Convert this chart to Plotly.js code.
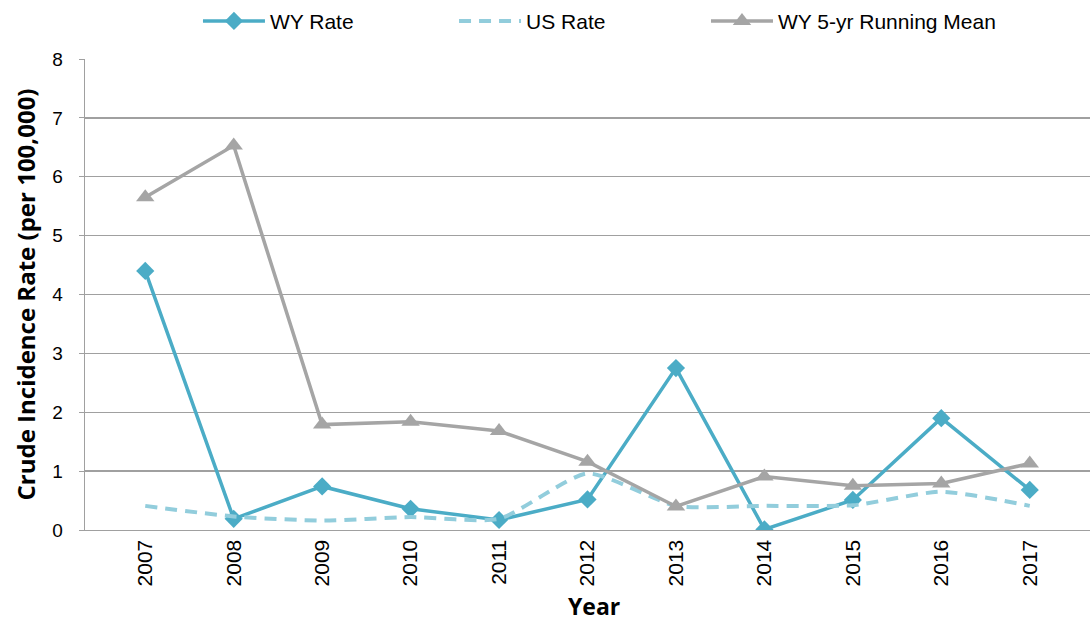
<!DOCTYPE html>
<html>
<head>
<meta charset="utf-8">
<script src="https://cdn.plot.ly/plotly-3.0.1.min.js"></script>
<style>html,body{margin:0;padding:0;background:#fff;}#chart{width:1092px;height:628px;}</style>
</head>
<body>
<div id="chart"></div>
<script>
const years = ['2007','2008','2009','2010','2011','2012','2013','2014','2015','2016','2017'];
const wyRate = [4.40, 0.19, 0.74, 0.36, 0.17, 0.52, 2.75, 0.01, 0.51, 1.90, 0.68];
const usRate = [0.41, 0.23, 0.16, 0.22, 0.19, 0.96, 0.41, 0.41, 0.42, 0.65, 0.41];
const wyMean = [5.65, 6.53, 1.79, 1.84, 1.68, 1.16, 0.40, 0.91, 0.75, 0.79, 1.13];
const yTicks = [0,1,2,3,4,5,6,7,8];

const traces = [
  {x: years, y: wyRate, name: 'WY Rate', type: 'scatter', mode: 'lines+markers', legend: 'legend',
   line: {color: '#4bacc6', width: 3.5},
   marker: {symbol: 'diamond', size: 14, color: '#4bacc6'}},
  {x: years, y: usRate, name: 'US Rate', type: 'scatter', mode: 'lines', legend: 'legend2',
   line: {color: '#92cddc', width: 4, dash: '12px,8px', shape: 'spline', smoothing: 0.6}},
  {x: years, y: wyMean, name: 'WY 5-yr Running Mean', type: 'scatter', mode: 'lines+markers', legend: 'legend3',
   line: {color: '#a5a5a5', width: 3.5},
   marker: {symbol: 'triangle-up', size: 16, color: '#a5a5a5'}}
];

const legFont = {family: 'Liberation Sans, Arial, sans-serif', size: 21, color: '#000'};
function leg(x) {
  return {orientation: 'h', x: x, xanchor: 'left', y: 1.08, yanchor: 'middle',
    itemwidth: 62, font: legFont, bgcolor: 'rgba(0,0,0,0)'};
}

const layout = {
  width: 1092, height: 628,
  margin: {l: 85, r: 2, t: 59, b: 98, autoexpand: false},
  paper_bgcolor: '#ffffff', plot_bgcolor: '#ffffff',
  font: {family: 'Liberation Sans, Arial, sans-serif', color: '#000'},
  showlegend: true,
  legend: leg(0.1124),
  legend2: leg(0.3672),
  legend3: leg(0.6179),
  xaxis: {type: 'category', categoryarray: years, tickangle: -90,
    showgrid: false, showline: true, linecolor: '#a0a0a0', linewidth: 1.3,
    ticks: '', tickfont: {size: 21, family: 'Liberation Sans, Arial, sans-serif'},
    zeroline: false, fixedrange: true, automargin: false},
  yaxis: {range: [0, 8], tickvals: yTicks, ticktext: yTicks.map(String),
    showgrid: true, gridcolor: '#a0a0a0', gridwidth: 1.3,
    showline: true, linecolor: '#a0a0a0', linewidth: 1.3,
    ticks: 'outside', ticklen: 5, tickcolor: '#a0a0a0', ticklabelstandoff: 12,
    tickfont: {size: 19, family: 'Liberation Sans, Arial, sans-serif'},
    title: {text: 'Crude Incidence Rate (per 100,000)', font: {size: 24, family: 'Open Sans, sans-serif', weight: 'bold'}, standoff: 10},
    zeroline: false, fixedrange: true, automargin: false},
  annotations: [{text: 'Year', xref: 'paper', yref: 'paper', x: 0.5065, y: -0.162,
    xanchor: 'center', yanchor: 'middle', showarrow: false, borderpad: 0,
    font: {size: 23, family: 'Open Sans, sans-serif', weight: 'bold', color: '#000'}}]
};

Plotly.newPlot('chart', traces, layout, {displayModeBar: false, staticPlot: true});
</script>
</body>
</html>
